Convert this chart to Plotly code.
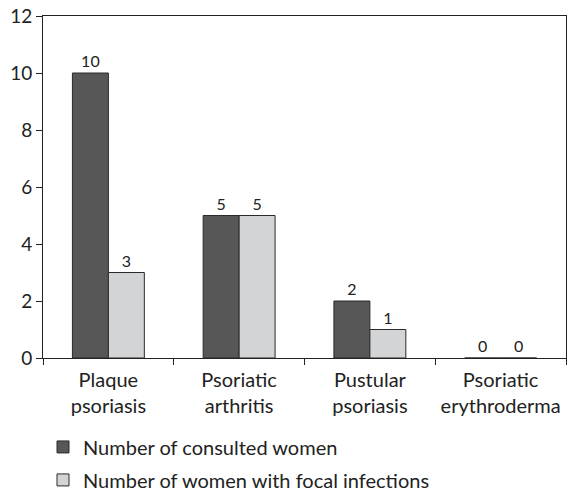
import plotly.graph_objects as go

categories = ["Plaque<br>psoriasis", "Psoriatic<br>arthritis", "Pustular<br>psoriasis", "Psoriatic<br>erythroderma"]
consulted = [10, 5, 2, 0]
focal = [3, 5, 1, 0]
series_names = ["Number of consulted women", "Number of women with focal infections"]
y_ticks = [0, 2, 4, 6, 8, 10, 12]

FONT = "Lato, Open Sans, sans-serif"

fig = go.Figure()
fig.add_trace(go.Bar(
    x=categories, y=consulted, name=series_names[0],
    marker=dict(color="#575757", line=dict(color="#2a2a2a", width=1)),
    text=[str(v) for v in consulted], textposition="outside",
    textfont=dict(size=16, color="#222"), cliponaxis=False,
    legendgroup="a",
))
fig.add_trace(go.Bar(
    x=categories, y=focal, name=series_names[1],
    marker=dict(color="#d3d4d6", line=dict(color="#2a2a2a", width=1)),
    text=[str(v) for v in focal], textposition="outside",
    textfont=dict(size=16, color="#222"), cliponaxis=False,
    legendgroup="b",
))

fig.update_layout(
    width=571, height=492,
    margin=dict(l=43, r=5, t=16, b=134, autoexpand=False),
    paper_bgcolor="white", plot_bgcolor="white",
    font=dict(family=FONT, size=20, color="#222"),
    barmode="group", bargap=0.45, bargroupgap=0,
    showlegend=True,
    legend=dict(
        orientation="v", x=0.0, xanchor="left", y=-0.203, yanchor="top",
        font=dict(size=20, color="#222"), traceorder="grouped", tracegroupgap=4,
        bgcolor="rgba(0,0,0,0)",
    ),
    xaxis=dict(
        showline=True, linecolor="#222", linewidth=1, mirror=True,
        ticks="outside", tickson="boundaries", ticklen=6, tickcolor="#222",
        showgrid=False, tickfont=dict(size=20, color="#222"),
        ticklabelstandoff=4,
    ),
    yaxis=dict(
        range=[0, 12], tickvals=y_ticks, showline=True, linecolor="#222", linewidth=1,
        mirror=True, ticks="outside", ticklen=6, tickcolor="#222", showgrid=False,
        zeroline=False, tickfont=dict(size=19, color="#222"),
    ),
)

fig.write_html("out.html", config={"displayModeBar": False},
               post_script="document.body.style.margin='0';")
